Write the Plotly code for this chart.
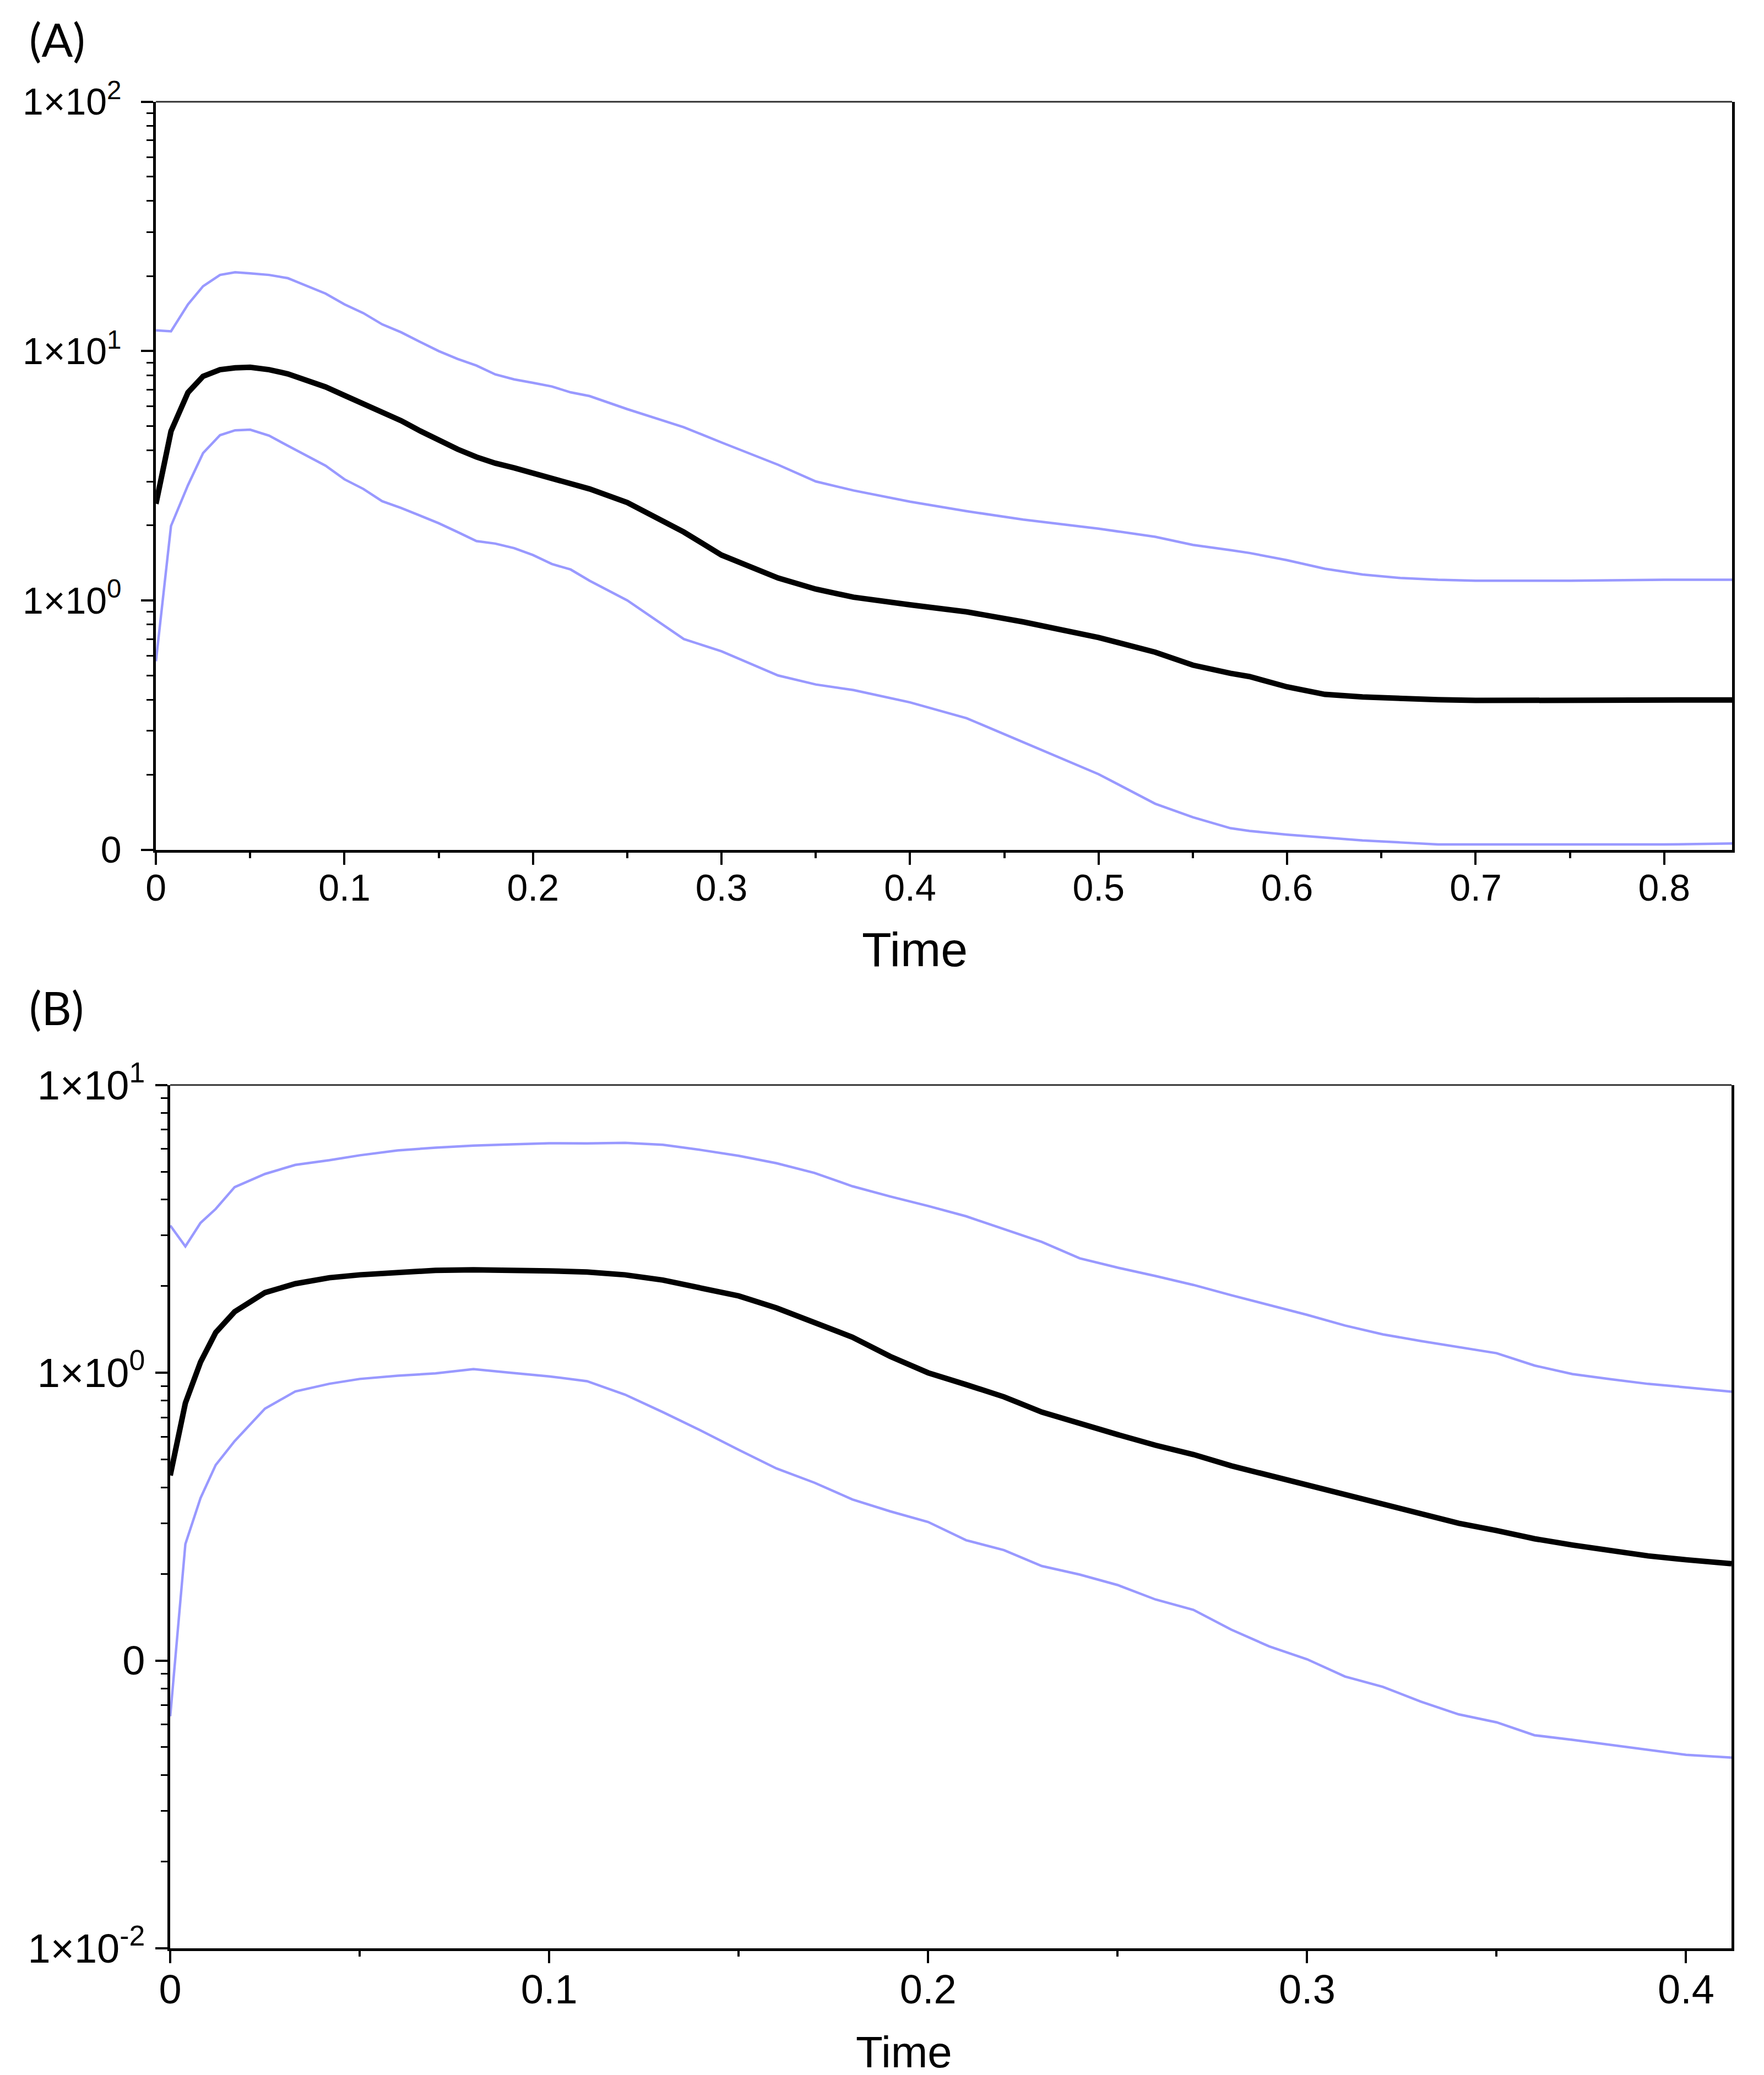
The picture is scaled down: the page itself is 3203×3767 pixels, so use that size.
import plotly.graph_objects as go

# panel A: time and the three curves (mean, upper and lower band)
time_a = [0, 0.008, 0.017, 0.025, 0.034, 0.042, 0.05, 0.06, 0.07, 0.08, 0.09, 0.1,
          0.11, 0.12, 0.13, 0.14, 0.15, 0.16, 0.17, 0.18, 0.19, 0.2, 0.21, 0.22, 0.23,
          0.25, 0.28, 0.3, 0.33, 0.35, 0.37, 0.4, 0.43, 0.46, 0.5, 0.53, 0.55, 0.57,
          0.58, 0.6, 0.62, 0.64, 0.66, 0.68, 0.7, 0.75, 0.8, 0.836]
upper_a = [12.1, 12.0, 15.4, 18.2, 20.2, 20.7, 20.5, 20.2, 19.6, 18.3, 17.0, 15.4,
           14.2, 12.8, 11.9, 10.9, 10.0, 9.3, 8.75, 8.06, 7.7, 7.46, 7.21, 6.83, 6.6,
           5.85, 4.95, 4.3, 3.5, 3.0, 2.76, 2.49, 2.28, 2.11, 1.94, 1.80, 1.67, 1.59,
           1.55, 1.45, 1.34, 1.27, 1.23, 1.21, 1.2, 1.2, 1.21, 1.21]
mean_a = [2.44, 4.77, 6.82, 7.92, 8.42, 8.57, 8.61, 8.42, 8.1, 7.67, 7.18, 6.64,
          6.14, 5.62, 5.26, 4.79, 4.38, 4.04, 3.76, 3.55, 3.4, 3.24, 3.08, 2.94, 2.8,
          2.47, 1.88, 1.52, 1.23, 1.11, 1.03, 0.96, 0.9, 0.82, 0.71, 0.62, 0.55, 0.51,
          0.495, 0.45, 0.42, 0.41, 0.403, 0.4, 0.397, 0.397, 0.398, 0.399]
lower_a = [0.57, 1.99, 2.9, 3.9, 4.6, 4.81, 4.84, 4.58, 4.17, 3.8, 3.47, 3.06,
           2.8, 2.5, 2.35, 2.19, 2.04, 1.88, 1.73, 1.69, 1.62, 1.52, 1.4, 1.33, 1.2,
           1.0, 0.7, 0.625, 0.5, 0.46, 0.437, 0.39, 0.337, 0.27, 0.201, 0.153, 0.135,
           0.122, 0.119, 0.115, 0.112, 0.109, 0.107, 0.105, 0.105, 0.105, 0.105, 0.106]

# panel B
time_b = [0, 0.004, 0.008, 0.012, 0.017, 0.025, 0.033, 0.042, 0.05, 0.06, 0.07, 0.08,
          0.09, 0.1, 0.11, 0.12, 0.13, 0.14, 0.15, 0.16, 0.17, 0.18, 0.19, 0.2, 0.21,
          0.22, 0.23, 0.24, 0.25, 0.26, 0.27, 0.28, 0.29, 0.3, 0.31, 0.32, 0.33, 0.34,
          0.35, 0.36, 0.37, 0.38, 0.39, 0.4, 0.412]
upper_b = [3.25, 2.75, 3.32, 3.71, 4.42, 4.91, 5.28, 5.48, 5.70, 5.93, 6.06, 6.16,
           6.22, 6.28, 6.27, 6.3, 6.2, 5.95, 5.68, 5.35, 4.95, 4.45, 4.1, 3.8, 3.5,
           3.15, 2.85, 2.5, 2.32, 2.17, 2.02, 1.86, 1.72, 1.59, 1.46, 1.36, 1.29, 1.23,
           1.17, 1.06, 0.99, 0.95, 0.915, 0.89, 0.86]
mean_b = [0.44, 0.785, 1.09, 1.38, 1.63, 1.90, 2.04, 2.14, 2.19, 2.24, 2.27, 2.28,
          2.28, 2.26, 2.24, 2.19, 2.1, 1.98, 1.85, 1.68, 1.5, 1.33, 1.14, 1.0, 0.91,
          0.825, 0.73, 0.665, 0.61, 0.56, 0.52, 0.475, 0.44, 0.409, 0.38, 0.353, 0.325,
          0.3, 0.283, 0.265, 0.252, 0.241, 0.231, 0.224, 0.217]
lower_b = [0.064, 0.254, 0.367, 0.478, 0.579, 0.751, 0.861, 0.916, 0.952, 0.977, 0.995, 1.03,
           1.0, 0.972, 0.935, 0.84, 0.73, 0.63, 0.54, 0.465, 0.415, 0.363, 0.33, 0.303, 0.262,
           0.242, 0.213, 0.199, 0.183, 0.163, 0.15, 0.128, 0.112, 0.101, 0.088, 0.081, 0.072,
           0.065, 0.061, 0.055, 0.053, 0.051, 0.049, 0.047, 0.046]

# y ticks (the "0" label sits where 1e-1 would be)
yticks_a = [0.1, 1, 10, 100]
ytext_a = ["0", "1×10<sup>0</sup>", "1×10<sup>1</sup>", "1×10<sup>2</sup>"]
yticks_b = [0.01, 0.1, 1, 10]
ytext_b = ["1×10<sup>-2</sup>", "0", "1×10<sup>0</sup>", "1×10<sup>1</sup>"]

band_color = "#9999ff"

fig = go.Figure()

for xs, ys in [(time_a, upper_a), (time_a, lower_a)]:
    fig.add_trace(go.Scatter(x=xs, y=ys, mode="lines", line=dict(color=band_color, width=4.5),
                             xaxis="x", yaxis="y", showlegend=False))
fig.add_trace(go.Scatter(x=time_a, y=mean_a, mode="lines", line=dict(color="black", width=10),
                         xaxis="x", yaxis="y", showlegend=False))

for xs, ys in [(time_b, upper_b), (time_b, lower_b)]:
    fig.add_trace(go.Scatter(x=xs, y=ys, mode="lines", line=dict(color=band_color, width=4.5),
                             xaxis="x2", yaxis="y2", showlegend=False))
fig.add_trace(go.Scatter(x=time_b, y=mean_b, mode="lines", line=dict(color="black", width=10),
                         xaxis="x2", yaxis="y2", showlegend=False))

tick_font = dict(family="Liberation Sans, Arial, sans-serif", size=68, color="black")
tick_font_b = dict(family="Liberation Sans, Arial, sans-serif", size=74, color="black")
title_font = dict(family="Liberation Sans, Arial, sans-serif", size=88, color="black")
title_font_b = dict(family="Liberation Sans, Arial, sans-serif", size=80, color="black")

xcommon = dict(showline=True, linecolor="black", linewidth=5, ticks="outside", ticklen=22,
               tickwidth=4, tickcolor="black", showgrid=False, zeroline=False,
               automargin=False, tick0=0, dtick=0.1, ticklabelstandoff=-16,
               minor=dict(ticks="outside", ticklen=10, tickwidth=4, tickcolor="black",
                          dtick=0.05, showgrid=False))
ycommon = dict(type="log", showline=True, linecolor="black", linewidth=5, mirror=True,
               ticks="outside", ticklen=22, tickwidth=4, tickcolor="black",
               showgrid=False, zeroline=False, automargin=False, tickmode="array",
               minor=dict(ticks="outside", ticklen=12, tickwidth=3, tickcolor="black",
                          dtick="D1", showgrid=False))

fig.update_layout(
    width=3203, height=3767,
    margin=dict(l=0, r=0, t=0, b=0, autoexpand=False),
    paper_bgcolor="white", plot_bgcolor="white",
    xaxis=dict(xcommon, domain=[0.0859, 0.9794], range=[0, 0.836], anchor="y",
               tickfont=tick_font),
    yaxis=dict(ycommon, domain=[0.5926, 0.9531], range=[-1, 2], anchor="x",
               tickvals=yticks_a, ticktext=ytext_a, tickfont=tick_font, ticklabelstandoff=22),
    xaxis2=dict(xcommon, domain=[0.0940, 0.9791], range=[0, 0.412], anchor="y2",
                tickfont=tick_font_b),
    yaxis2=dict(ycommon, domain=[0.0632, 0.4792], range=[-2, 1], anchor="x2",
                tickvals=yticks_b, ticktext=ytext_b, tickfont=tick_font_b, ticklabelstandoff=4),
)

# thin top border of each panel
for xr, yr in [("x domain", "y domain"), ("x2 domain", "y2 domain")]:
    fig.add_shape(type="line", xref=xr, yref=yr, x0=0, x1=1, y0=1, y1=1,
                  line=dict(color="#333333", width=3))

# x axis titles, placed by hand (they sit a bit left of centre in the original)
fig.add_annotation(text="Time", xref="paper", yref="paper", x=0.516, y=0.5445,
                   xanchor="center", yanchor="middle", showarrow=False, font=title_font)
fig.add_annotation(text="Time", xref="paper", yref="paper", x=0.510, y=0.0132,
                   xanchor="center", yanchor="middle", showarrow=False, font=title_font_b)

label_font = dict(family="Lato, Open Sans, sans-serif", size=84, color="black")
fig.add_annotation(text="(A)", xref="paper", yref="paper", x=0.0135, y=0.9833,
                   xanchor="left", yanchor="middle", showarrow=False, font=label_font)
fig.add_annotation(text="(B)", xref="paper", yref="paper", x=0.0135, y=0.5168,
                   xanchor="left", yanchor="middle", showarrow=False, font=label_font)

fig.write_html("out.html")
